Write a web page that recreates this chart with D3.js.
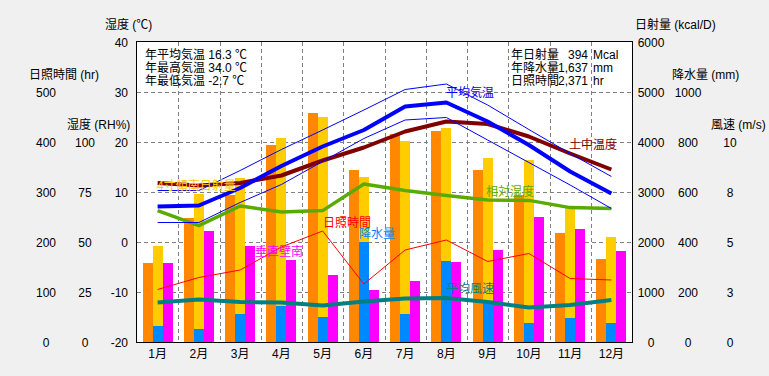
<!DOCTYPE html>
<html><head><meta charset="utf-8">
<script src="https://cdn.jsdelivr.net/npm/d3@7"></script>
<style>
body{margin:0;background:#f0f0f0;}
svg{display:block;font-family:"Liberation Sans Narrow","Liberation Sans","Noto Sans CJK JP",sans-serif;}
</style></head>
<body><svg id="c" width="769" height="376"></svg>
<script>
// ---- data ----
const months = ["1月","2月","3月","4月","5月","6月","7月","8月","9月","10月","11月","12月"];
const avgTemp  = [7.1, 7.3, 10.8, 15.2, 19.1, 22.4, 27.1, 27.9, 24.1, 19.4, 14.1, 9.7];
const maxTemp  = [10.3, 10.3, 14.3, 18.5, 22.4, 26.4, 30.5, 31.6, 27.4, 22.5, 17.7, 13.1];
const minTemp  = [3.9, 3.9, 7.9, 11.5, 16.1, 20.7, 24.4, 24.9, 20.4, 15.9, 11.4, 6.7];
const soilTemp = [11.8, 11.3, 11.8, 13.3, 16.3, 18.9, 22.1, 24.1, 23.6, 21.1, 17.7, 14.5];
const humidity = [65.7, 58.2, 68.0, 65.0, 65.7, 79.0, 75.7, 73.3, 71.0, 70.8, 67.2, 66.8];
const sunHours = [105, 129, 144, 190, 222, 116, 184, 204, 161, 177, 127, 124];
const windSpeed = [1.98, 2.12, 2.0, 1.98, 1.82, 2.02, 2.18, 2.2, 2.0, 1.72, 1.85, 2.1];
const solarHoriz = [1587, 2487, 2940, 3940, 4587, 3440, 4160, 4227, 3440, 2940, 2187, 1660];
const solarTilt  = [1920, 2960, 3287, 4087, 4507, 3307, 4027, 4287, 3687, 3640, 2720, 2100];
const solarVert  = [1587, 2227, 1920, 1640, 1340, 1040, 1220, 1600, 1840, 2507, 2260, 1827];
const precip     = [65, 52, 112, 145, 101, 401, 112, 325, 155, 77, 97, 77];

const tempTicks = [-20, -10, 0, 10, 20, 30, 40];
const hourTicks = [0, 100, 200, 300, 400, 500];
const rhTicks = [0, 25, 50, 75, 100];
const kcalTicks = [0, 1000, 2000, 3000, 4000, 5000, 6000];
const precipTicks = [0, 200, 400, 600, 800, 1000];
const windTicks = [0, 2.5, 5, 7.5, 10];

const leftNotes = ["年平均気温 16.3 ℃", "年最高気温 34.0 ℃", "年最低気温 -2.7 ℃"];
const rightNotes = [["年日射量", "394", "Mcal"], ["年降水量", "1,637", "mm"], ["日照時間", "2,371", "hr"]];

// ---- layout ----
const L = 137, R = 632, T = 42, B = 342;
const svg = d3.select("#c");
const FS = 12;
const NUMFONT = '"Liberation Sans Narrow","Liberation Sans",sans-serif';

const x = d3.scaleBand().domain(months).range([L, R]);
const xc = m => x(m) + x.bandwidth() / 2;
const xs = d3.scaleBand().domain(["h", "t", "v"]).range([-15, 15]);
const yT = d3.scaleLinear().domain([-20, 40]).range([B, T]);
const yH = d3.scaleLinear().domain([0, 600]).range([B, T]);
const yRH = d3.scaleLinear().domain([0, 150]).range([B, T]);
const yK = d3.scaleLinear().domain([0, 6000]).range([B, T]);
const yP = d3.scaleLinear().domain([0, 1200]).range([B, T]);
const yW = d3.scaleLinear().domain([0, 15]).range([B, T]);

// plot background
svg.append("rect").attr("x", L).attr("y", T).attr("width", R - L).attr("height", B - T).attr("fill", "#fff");

// grid
const grid = svg.append("g").attr("stroke", "#808080").attr("stroke-dasharray", "4,3").attr("stroke-width", 1);
tempTicks.slice(1, -1).forEach(t => {
  grid.append("line").attr("x1", L).attr("x2", R).attr("y1", Math.round(yT(t)) + 0.5).attr("y2", Math.round(yT(t)) + 0.5);
});
months.slice(1).forEach(m => {
  grid.append("line").attr("x1", Math.round(x(m)) + 0.5).attr("x2", Math.round(x(m)) + 0.5).attr("y1", T).attr("y2", B);
});

// bars
const bars = svg.append("g").attr("shape-rendering", "crispEdges");
function drawBars(vals, key, scale, color) {
  bars.selectAll(null).data(vals).enter().append("rect")
    .attr("x", (d, i) => xc(months[i]) + xs(key))
    .attr("width", xs.bandwidth())
    .attr("y", d => scale(d))
    .attr("height", d => B - scale(d))
    .attr("fill", color);
}
drawBars(solarHoriz, "h", yK, "#ff8800");
drawBars(solarTilt, "t", yK, "#ffcc00");
drawBars(solarVert, "v", yK, "#ff00ff");
drawBars(precip, "t", yP, "#0088ff");

// lines
function drawLine(vals, scale, color, w) {
  const ln = d3.line().x((d, i) => xc(months[i])).y(d => scale(d));
  svg.append("path").datum(vals).attr("d", ln).attr("fill", "none")
    .attr("stroke", color).attr("stroke-width", w).attr("stroke-linejoin", "round");
}
drawLine(sunHours, yH, "#ff0000", 1);
drawLine(windSpeed, yW, "#008080", 4);
drawLine(humidity, yRH, "#5aab00", 3.5);
drawLine(soilTemp, yT, "#800000", 4);
drawLine(maxTemp, yT, "#0000ff", 1);
drawLine(minTemp, yT, "#0000ff", 1);
drawLine(avgTemp, yT, "#0000ff", 4);

// frame
svg.append("rect").attr("x", L - 0.5).attr("y", T - 0.5).attr("width", R - L + 1).attr("height", B - T + 1)
  .attr("fill", "none").attr("stroke", "#000").attr("stroke-width", 1);

// series labels
const labels = [
  ["平均気温", 446, 93, "#0000ff"],
  ["土中温度", 569, 145, "#800000"],
  ["相対湿度", 486, 192, "#5aab00"],
  ["日照時間", 323, 223, "#ff0000"],
  ["降水量", 359, 234, "#0088ff"],
  ["垂直壁南", 255, 252, "#ff00ff"],
  ["平均風速", 446, 289, "#008080"],
  ["4寸傾南日射量", 157, 186, "#ffcc00"]
];
labels.forEach(([t, lx, ly, c]) => {
  svg.append("text").attr("x", lx).attr("y", ly).attr("dominant-baseline", "central")
    .attr("font-size", FS).attr("fill", c).text(t);
});

// notes (one multi-line text block each)
const ln1 = svg.append("text").attr("font-size", FS).attr("fill", "#000");
leftNotes.forEach((t, i) => {
  ln1.append("tspan").attr("x", 145).attr("y", 59 + i * 13).text(t);
});
const ln2 = svg.append("text").attr("font-size", FS).attr("fill", "#000");
rightNotes.forEach((r, i) => {
  const yy = 59 + i * 13;
  ln2.append("tspan").attr("x", 511).attr("y", yy).text(r[0]);
  ln2.append("tspan").attr("x", 588).attr("y", yy).attr("text-anchor", "end").text(r[1]);
  ln2.append("tspan").attr("x", 593).attr("y", yy).attr("text-anchor", "start").text(r[2]);
});

// axes (labels only)
function axisCol(scale, ticks, fmt, xpos, anchor) {
  const g = svg.append("g").attr("transform", `translate(${xpos},0)`)
    .call(d3.axisLeft(scale).tickValues(ticks).tickFormat(fmt).tickSize(0).tickPadding(0));
  g.select(".domain").remove();
  g.selectAll("text").attr("font-size", FS).attr("font-family", NUMFONT)
    .attr("fill", "#000").attr("text-anchor", anchor).attr("dy", null).attr("dominant-baseline", "central");
}
axisCol(yT, tempTicks, d => String(d), 128, "end");
axisCol(yRH, rhTicks, d => String(d), 85, "middle");
axisCol(yH, hourTicks, d => String(d), 46, "middle");
axisCol(yK, kcalTicks, d => String(d), 651, "middle");
axisCol(yP, precipTicks, d => String(d), 688, "middle");
axisCol(yW, windTicks, d => String(Math.round(d)), 730, "middle");

// month axis
const gx = svg.append("g").attr("transform", `translate(0,${B})`)
  .call(d3.axisBottom(x).tickSize(0).tickPadding(0));
gx.select(".domain").remove();
gx.selectAll("text").attr("font-size", FS).attr("font-family", '"Liberation Sans","Noto Sans CJK JP",sans-serif')
  .attr("fill", "#000").attr("dy", null).attr("y", 12).attr("dominant-baseline", "central");

// axis titles
const titles = [
  ["湿度 (℃)", 105, 25],
  ["日照時間 (hr)", 29, 75],
  ["湿度 (RH%)", 67, 125],
  ["日射量 (kcal/D)", 635, 25],
  ["降水量 (mm)", 672, 75],
  ["風速 (m/s)", 711, 125]
];
titles.forEach(([t, tx, ty]) => {
  svg.append("text").attr("x", tx).attr("y", ty).attr("dominant-baseline", "central")
    .attr("font-size", FS).attr("fill", "#000").text(t);
});
</script></body></html>
